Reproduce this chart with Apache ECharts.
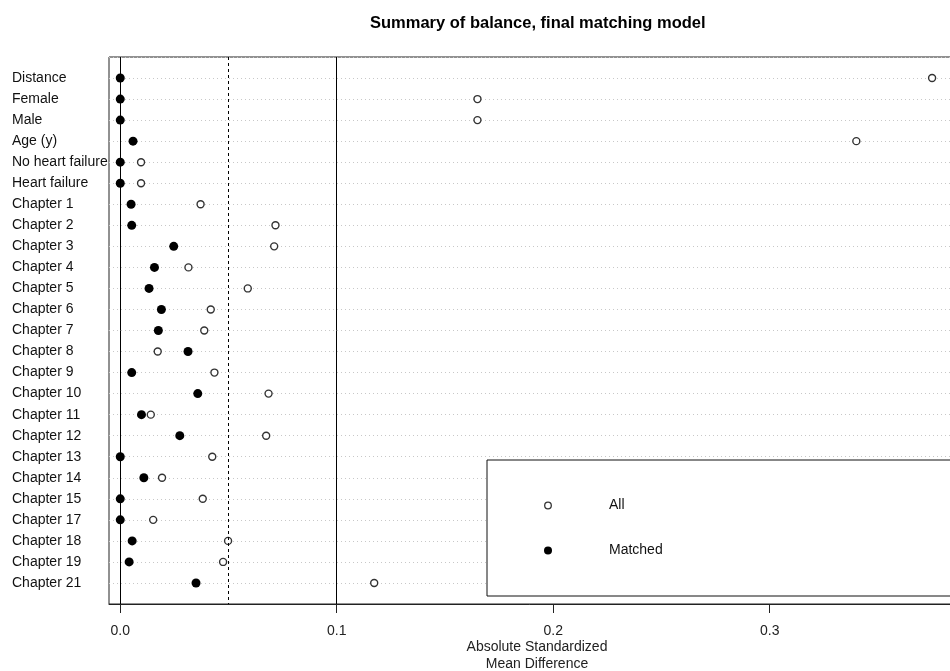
<!DOCTYPE html>
<html>
<head>
<meta charset="utf-8">
<script src="https://cdn.jsdelivr.net/npm/echarts@6/dist/echarts.min.js"></script>
<style>
  html, body { margin: 0; padding: 0; background: #ffffff; }
  #chart { width: 950px; height: 671px; }
</style>
</head>
<body>
<div id="chart"></div>
<script>
// Covariates, listed top to bottom
const covariates = [
  'Distance', 'Female', 'Male', 'Age (y)', 'No heart failure', 'Heart failure',
  'Chapter 1', 'Chapter 2', 'Chapter 3', 'Chapter 4', 'Chapter 5', 'Chapter 6',
  'Chapter 7', 'Chapter 8', 'Chapter 9', 'Chapter 10', 'Chapter 11', 'Chapter 12',
  'Chapter 13', 'Chapter 14', 'Chapter 15', 'Chapter 17', 'Chapter 18', 'Chapter 19',
  'Chapter 21'
];

// Absolute standardized mean differences before matching
const allValues = [
  0.375, 0.165, 0.165, 0.340, 0.0096, 0.0096,
  0.0371, 0.0717, 0.0711, 0.0315, 0.0589, 0.0418,
  0.0388, 0.0173, 0.0435, 0.0685, 0.0141, 0.0674,
  0.0425, 0.0193, 0.0381, 0.0152, 0.0498, 0.0475,
  0.1173
];

// Absolute standardized mean differences after matching
const matchedValues = [
  0.0, 0.0, 0.0, 0.0059, 0.0, 0.0,
  0.0050, 0.0053, 0.0247, 0.0158, 0.0133, 0.0190,
  0.0176, 0.0313, 0.0053, 0.0358, 0.0098, 0.0275,
  0.0, 0.0109, 0.0, 0.0, 0.0055, 0.0041,
  0.0350
];

// Reference lines (solid, dashed, solid)
const refLines = [0, 0.05, 0.1];
const xTicks = [0, 0.1, 0.2, 0.3];
const xTickLabels = ['0.0', '0.1', '0.2', '0.3'];

const FONT = '"Liberation Sans", Arial, sans-serif';
const rowCount = covariates.length;
const rowPos = i => i + 1;

const chart = echarts.init(document.getElementById('chart'), null, { renderer: 'canvas' });

chart.setOption({
  backgroundColor: '#ffffff',
  animation: false,
  title: {
    text: 'Summary of balance, final matching model',
    left: 365,
    top: 10,
    textStyle: { fontFamily: FONT, fontSize: 16.5, fontWeight: 'bold', color: '#000' }
  },
  grid: {
    left: 109, top: 57, right: -15, bottom: 67,
    outerBoundsMode: 'none',
    containLabel: false,
    show: true, borderColor: '#222', borderWidth: 1, backgroundColor: 'transparent'
  },
  xAxis: {
    type: 'value',
    min: -0.0052,
    max: 0.3902,
    name: 'Absolute Standardized\nMean Difference',
    nameLocation: 'middle',
    nameGap: 34.5,
    nameMoveOverlap: false,
    nameTextStyle: { fontFamily: FONT, fontSize: 14, color: '#222', lineHeight: 17 },
    axisLine: { show: true, onZero: false, lineStyle: { color: '#222', width: 1 } },
    axisTick: { show: true, length: 9, customValues: xTicks, lineStyle: { color: '#222' } },
    axisLabel: {
      customValues: xTicks,
      margin: 20,
      fontFamily: FONT, fontSize: 14, color: '#222',
      formatter: v => {
        const k = xTicks.findIndex(t => Math.abs(t - v) < 1e-9);
        return k >= 0 ? xTickLabels[k] : '';
      }
    },
    splitLine: { show: false }
  },
  yAxis: {
    type: 'value',
    inverse: true,
    min: 0,
    max: rowCount + 1,
    interval: 1,
    axisLine: { show: false },
    axisTick: { show: false },
    axisLabel: {
      align: 'left',
      margin: 97,
      fontFamily: FONT, fontSize: 14, color: '#111',
      formatter: v => (v >= 1 && v <= rowCount) ? covariates[v - 1] : ''
    },
    splitLine: { show: true, lineStyle: { color: '#c8c8c8', type: [1, 3], width: 1 } }
  },
  series: [
    {
      name: 'All',
      type: 'scatter',
      symbol: 'circle',
      symbolSize: 7,
      itemStyle: { color: '#ffffff', borderColor: '#333', borderWidth: 1.4, opacity: 1 },
      data: allValues.map((v, i) => [v, rowPos(i)]),
      markLine: {
        silent: true,
        symbol: 'none',
        label: { show: false },
        data: refLines.map(v => ({
          xAxis: v,
          lineStyle: { color: '#000', width: 1, type: v === 0.05 ? [3, 3] : 'solid' }
        }))
      },
      z: 3
    },
    {
      name: 'Matched',
      type: 'scatter',
      symbol: 'circle',
      symbolSize: 9,
      itemStyle: { color: '#000000', opacity: 1 },
      data: matchedValues.map((v, i) => [v, rowPos(i)]),
      z: 4
    }
  ],
  graphic: [
    {
      type: 'rect',
      shape: { x: 487, y: 460, width: 500, height: 136 },
      style: { fill: '#ffffff', stroke: '#111', lineWidth: 1 },
      z: 10
    },
    {
      type: 'circle',
      shape: { cx: 548, cy: 505.5, r: 3.3 },
      style: { fill: '#ffffff', stroke: '#333', lineWidth: 1.3 },
      z: 11
    },
    {
      type: 'circle',
      shape: { cx: 548, cy: 550.5, r: 4 },
      style: { fill: '#000000' },
      z: 11
    },
    {
      type: 'text',
      x: 609, y: 505.5,
      style: { text: 'All', fontFamily: FONT, fontSize: 14, fill: '#111', verticalAlign: 'middle' },
      z: 11
    },
    {
      type: 'text',
      x: 609, y: 550.5,
      style: { text: 'Matched', fontFamily: FONT, fontSize: 14, fill: '#111', verticalAlign: 'middle' },
      z: 11
    }
  ]
});
</script>
</body>
</html>
